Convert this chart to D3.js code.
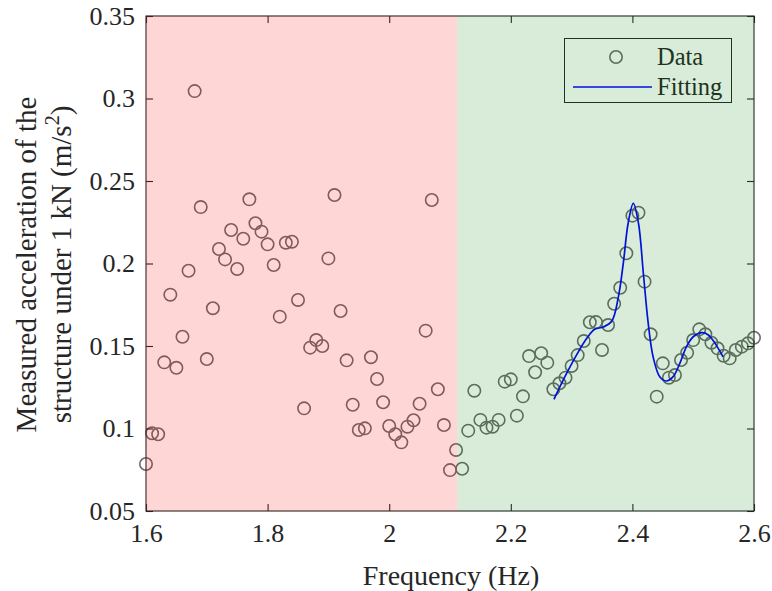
<!DOCTYPE html>
<html>
<head>
<meta charset="utf-8">
<script src="https://cdn.jsdelivr.net/npm/d3@7"></script>
<style>
  html, body { margin: 0; padding: 0; background: #ffffff; }
  svg { display: block; }
  svg text { fill: #262626; }
</style>
</head>
<body>
<svg id="chart" width="772" height="591" style="font-family: 'Liberation Serif', 'DejaVu Serif', serif;"></svg>
<script>
// Measured response: frequency (Hz) and acceleration (m/s^2) under 1 kN
const freqLow = [1.60,1.61,1.62,1.63,1.64,1.65,1.66,1.67,1.68,1.69,
                 1.70,1.71,1.72,1.73,1.74,1.75,1.76,1.77,1.78,1.79,
                 1.80,1.81,1.82,1.83,1.84,1.85,1.86,1.87,1.88,1.89,
                 1.90,1.91,1.92,1.93,1.94,1.95,1.96,1.97,1.98,1.99,
                 2.00,2.01,2.02,2.03,2.04,2.05,2.06,2.07,2.08,2.09,
                 2.10,2.11];
const accLow = [0.0785,0.0971,0.0965,0.1401,0.1811,0.1368,0.1556,0.1956,0.3045,0.2342,
                0.1421,0.1729,0.2088,0.2025,0.2203,0.1967,0.2150,0.2389,0.2244,0.2193,
                0.2116,0.1991,0.1678,0.2126,0.2132,0.1779,0.1122,0.1490,0.1536,0.1500,
                0.2031,0.2415,0.1712,0.1413,0.1144,0.0991,0.1001,0.1432,0.1300,0.1159,
                0.1015,0.0965,0.0916,0.1011,0.1050,0.1150,0.1593,0.2385,0.1238,0.1021,
                0.0748,0.0870];
const freqHigh = [2.12,2.13,2.14,2.15,2.16,2.17,2.18,2.19,2.20,2.21,
                  2.22,2.23,2.24,2.25,2.26,2.27,2.28,2.29,2.30,2.31,
                  2.32,2.33,2.34,2.35,2.36,2.37,2.38,2.39,2.40,2.41,
                  2.42,2.43,2.44,2.45,2.46,2.47,2.48,2.49,2.50,2.51,
                  2.52,2.53,2.54,2.55,2.56,2.57,2.58,2.59,2.60];
const accHigh = [0.0756,0.0987,0.1229,0.1052,0.1005,0.1011,0.1052,0.1284,0.1298,0.1078,
                 0.1195,0.1439,0.1341,0.1456,0.1399,0.1238,0.1274,0.1308,0.1379,0.1445,
                 0.1530,0.1644,0.1645,0.1476,0.1627,0.1756,0.1853,0.2062,0.2290,0.2308,
                 0.1890,0.1571,0.1193,0.1395,0.1308,0.1324,0.1415,0.1459,0.1536,0.1601,
                 0.1571,0.1520,0.1486,0.1441,0.1425,0.1476,0.1496,0.1516,0.1550];

// Fitted response curve
const fitFreq = [2.271,2.289,2.308,2.325,2.338,2.352,2.366,2.377,2.385,2.393,
                 2.4015,2.41,2.418,2.426,2.434,2.445,2.456,2.467,2.478,2.489,
                 2.500,2.514,2.525,2.536,2.549];
const fitAcc = [0.1177,0.1314,0.1445,0.1547,0.1601,0.1615,0.1650,0.1799,0.2001,0.2244,
                0.2365,0.2244,0.1941,0.1638,0.1435,0.1314,0.1288,0.1314,0.1395,0.1496,
                0.1556,0.1581,0.1567,0.1516,0.1435];

// Frequency bands shaded over the plot area
const bandEdges = [1.6, 2.112, 2.6];
const bandColors = ["rgba(255,0,0,0.16)", "rgba(0,128,0,0.15)"];

const xTicks = [1.6, 1.8, 2.0, 2.2, 2.4, 2.6];
const yTicks = [0.05, 0.10, 0.15, 0.20, 0.25, 0.30, 0.35];
const yTickLabels = ["0.05","0.1","0.15","0.2","0.25","0.3","0.35"];
const xTickLabels = ["1.6","1.8","2","2.2","2.4","2.6"];

const serif = "'Liberation Serif', 'DejaVu Serif', serif";
const m = { left: 146, right: 754, top: 16, bottom: 511 };
const x = d3.scaleLinear().domain([1.6, 2.6]).range([m.left, m.right]);
const y = d3.scaleLinear().domain([0.05, 0.35]).range([m.bottom, m.top]);

const svg = d3.select("#chart");
const plot = svg.append("g");

const points = freqLow.map((f, i) => ({f, a: accLow[i]}))
  .concat(freqHigh.map((f, i) => ({f, a: accHigh[i]})));

const markerStroke = "rgb(108,108,108)";

plot.append("g").selectAll("circle").data(points).join("circle")
  .attr("cx", d => x(d.f)).attr("cy", d => y(d.a)).attr("r", 6.2)
  .attr("fill", "none").attr("stroke", markerStroke).attr("stroke-width", 1.6);

const line = d3.line().x(d => x(d[0])).y(d => y(d[1])).curve(d3.curveCatmullRom.alpha(0.5));
plot.append("path").datum(fitFreq.map((f, i) => [f, fitAcc[i]]))
  .attr("d", line).attr("fill", "none").attr("stroke", "#0000ff").attr("stroke-width", 1.7);

// Axes with inward ticks on all four sides
const tickLen = 7;
const axisColor = "#262626";
function styleAxis(g) {
  g.attr("font-family", serif).attr("font-size", 26);
  g.select(".domain").remove();
  g.selectAll("line").attr("stroke", axisColor).attr("stroke-width", 1.1);
  g.selectAll("text").attr("fill", axisColor).attr("font-family", serif).attr("font-size", 26);
}

svg.append("g").attr("transform", `translate(0,${m.bottom})`)
  .call(d3.axisBottom(x).tickValues(xTicks).tickFormat((d, i) => xTickLabels[i]).tickSizeInner(-tickLen).tickSizeOuter(0).tickPadding(13))
  .call(styleAxis);
svg.append("g").attr("transform", `translate(0,${m.top})`)
  .call(d3.axisTop(x).tickValues(xTicks).tickFormat("").tickSizeInner(-tickLen).tickSizeOuter(0))
  .call(styleAxis);
svg.append("g").attr("transform", `translate(${m.left},0)`)
  .call(d3.axisLeft(y).tickValues(yTicks).tickFormat((d, i) => yTickLabels[i]).tickSizeInner(-tickLen).tickSizeOuter(0).tickPadding(11))
  .call(styleAxis);
svg.append("g").attr("transform", `translate(${m.right},0)`)
  .call(d3.axisRight(y).tickValues(yTicks).tickFormat("").tickSizeInner(-tickLen).tickSizeOuter(0))
  .call(styleAxis);

svg.append("rect").attr("x", m.left).attr("y", m.top).attr("width", m.right - m.left).attr("height", m.bottom - m.top)
  .attr("fill", "none").attr("stroke", axisColor).attr("stroke-width", 1.1);

// Legend
const lg = svg.append("g").attr("font-family", serif).attr("font-size", 24.5);
lg.append("rect").attr("x", 564.5).attr("y", 38.5).attr("width", 167).attr("height", 64)
  .attr("fill", "none").attr("stroke", axisColor).attr("stroke-width", 1);
lg.append("circle").attr("cx", 616).attr("cy", 57).attr("r", 6.2)
  .attr("fill", "none").attr("stroke", markerStroke).attr("stroke-width", 1.6);
lg.append("line").attr("x1", 573).attr("x2", 652).attr("y1", 87).attr("y2", 87)
  .attr("stroke", "#0000ff").attr("stroke-width", 1.7);
lg.append("text").attr("x", 657).attr("y", 65).text("Data");
lg.append("text").attr("x", 657).attr("y", 95).text("Fitting");

// Translucent frequency bands
svg.append("g").selectAll("rect").data(bandColors).join("rect")
  .attr("x", (d, i) => x(bandEdges[i])).attr("y", m.top)
  .attr("width", (d, i) => x(bandEdges[i + 1]) - x(bandEdges[i]))
  .attr("height", m.bottom - m.top)
  .attr("fill", d => d);

// Axis titles
svg.append("text").attr("x", 451).attr("y", 585)
  .attr("text-anchor", "middle").attr("font-family", serif).attr("font-size", 28).text("Frequency (Hz)");

const yTitle = svg.append("g").attr("transform", `translate(0,${(m.top + m.bottom) / 2 + 1}) rotate(-90)`)
  .attr("font-family", serif).attr("font-size", 29);
yTitle.append("text").attr("x", 0).attr("y", 36).attr("text-anchor", "middle")
  .text("Measured acceleration of the");
const t2 = yTitle.append("text").attr("x", 0).attr("y", 71).attr("text-anchor", "middle");
t2.append("tspan").text("structure under 1 kN (m/s");
t2.append("tspan").attr("dy", -12).attr("font-size", 20).text("2");
t2.append("tspan").attr("dy", 12).text(")");
</script>
</body>
</html>
